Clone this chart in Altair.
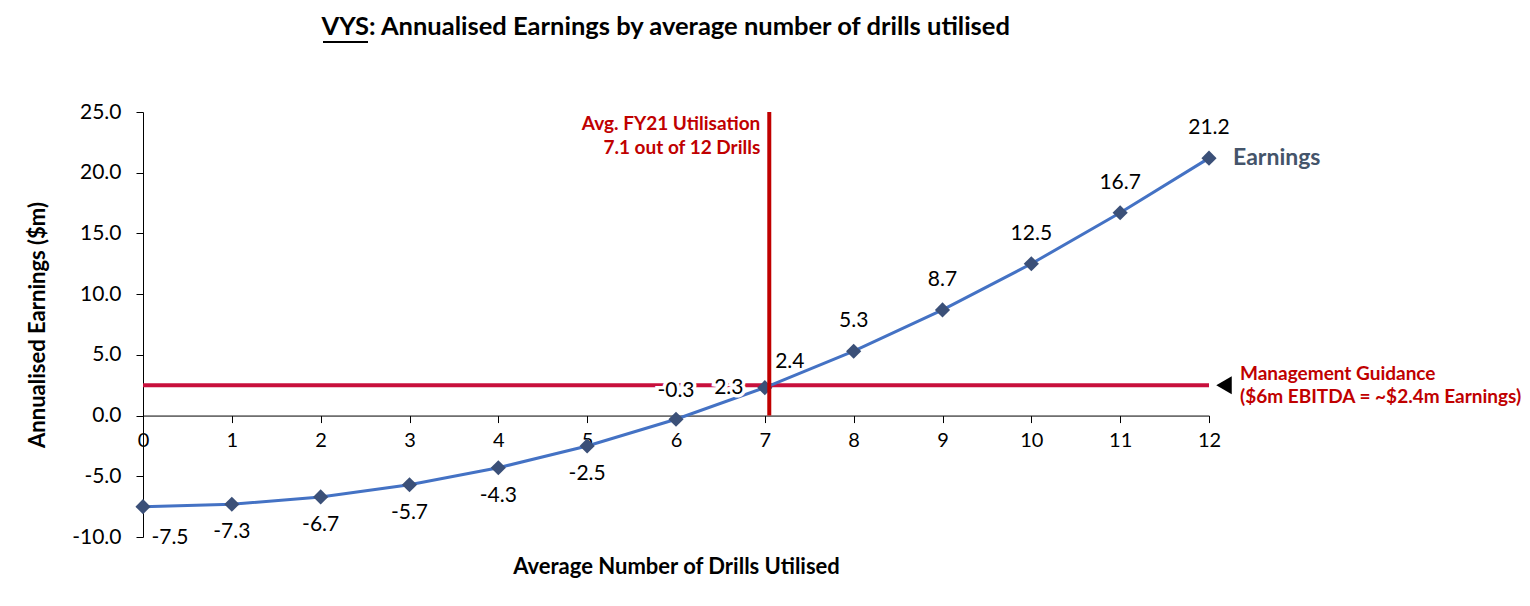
import altair as alt
import pandas as pd

drills = list(range(13))
earnings = [-7.5, -7.3, -6.7, -5.7, -4.3, -2.5, -0.3, 2.3, 5.3, 8.7, 12.5, 16.7, 21.2]
guidance_level = [2.5]
guidance_label = ["2.4"]
utilisation = [7.05]
util_text = ["Avg. FY21 Utilisation", "7.1 out of 12 Drills"]
guid_text = ["Management Guidance", "($6m EBITDA = ~$2.4m Earnings)"]
y_ticks = [-10, -5, 0, 5, 10, 15, 20, 25]

FONT = "Lato"
RED = "#C00000"
HRED = "#C8103C"
BLUE = "#4472C4"
MARK = "#3B5078"

W, H = 1066, 425
YMIN, YMAX = -10, 25
zero_offset = -(0 - YMIN) / (YMAX - YMIN) * H

df = pd.DataFrame({"drills": drills, "earnings": earnings,
                   "label": [f"{v:.1f}" for v in earnings]})

xs = alt.Scale(domain=[0, 12], nice=False)
ys = alt.Scale(domain=[YMIN, YMAX], nice=False)

base = alt.Chart(df)

X = alt.X("drills:Q", scale=xs, axis=alt.Axis(
    values=drills, format="d", offset=zero_offset, tickSize=7, labelFontSize=20,
    labelPadding=8, labelFlush=False, labelFont=FONT, labelColor="black", domainColor="black",
    tickColor="black", grid=False, title="Average Number of Drills Utilised",
    titleFont=FONT, titleFontSize=22, titleFontWeight="bold", titleColor="black",
    titleY=151, titleBaseline="middle"))
Y = alt.Y("earnings:Q", scale=ys, axis=alt.Axis(
    values=y_ticks, tickSize=7, labelFontSize=21, labelPadding=15,
    labelExpr="replace(format(datum.value, '.1f'), '\u2212', '-')",
    labelFont=FONT, labelColor="black", domainColor="black", tickColor="black",
    grid=False, title="Annualised Earnings ($m)", titleFont=FONT, titleFontSize=22,
    titleFontWeight="bold", titleColor="black", titleX=-106, titleBaseline="middle"))

gdf = pd.DataFrame({"x0": [0], "x1": [12], "g": guidance_level, "t": guidance_label})
hline = alt.Chart(gdf).mark_rule(color=HRED, strokeWidth=4).encode(
    x=alt.X("x0:Q", scale=xs), x2="x1:Q", y=alt.Y("g:Q", scale=ys))

udf = pd.DataFrame({"u": utilisation, "y0": [0], "y1": [YMAX]})
vline = alt.Chart(udf).mark_rule(color=RED, strokeWidth=4).encode(
    x=alt.X("u:Q", scale=xs), y=alt.Y("y0:Q", scale=ys), y2="y1:Q")

line = base.mark_line(color=BLUE, strokeWidth=3).encode(x=X, y=Y)
pts = base.mark_point(shape="diamond", filled=True, size=230, color=MARK, opacity=1).encode(
    x=alt.X("drills:Q", scale=xs), y=alt.Y("earnings:Q", scale=ys))

LS = 21


def lab(filt, dx=0, dy=0, align="center"):
    layers = []
    for halo in (True, False):
        kw = dict(fontSize=LS, font=FONT, align=align, baseline="middle", dx=dx, dy=dy)
        if halo:
            kw.update(color="white", stroke="white", strokeWidth=7)
        else:
            kw.update(color="black")
        layers.append(base.mark_text(**kw).encode(
            x=alt.X("drills:Q", scale=xs), y=alt.Y("earnings:Q", scale=ys),
            text="label:N").transform_filter(filt))
    return layers


labels = []
labels += lab("datum.drills == 0", dx=27, dy=31)
labels += lab("datum.drills >= 1 && datum.drills <= 5", dy=28)
labels += lab("datum.drills == 6", dy=-28)
labels += lab("datum.drills == 7", dx=-36)
labels += lab("datum.drills >= 8", dy=-30)

g_lab = alt.Chart(gdf).mark_text(fontSize=LS, font=FONT, color="black", dx=25, dy=-23,
                                  align="center", baseline="middle").encode(
    x=alt.value(7 / 12 * W), y=alt.Y("g:Q", scale=ys), text="t:N")

earn_lab = alt.Chart(pd.DataFrame({"x": [12], "y": [earnings[-1]], "t": ["Earnings"]})).mark_text(
    fontSize=23, font=FONT, fontWeight="bold", color="#44546A", align="left",
    baseline="middle", dx=24).encode(
    x=alt.X("x:Q", scale=xs), y=alt.Y("y:Q", scale=ys), text="t:N")

ANN = 19
u1 = alt.Chart(pd.DataFrame({"u": utilisation, "y": [YMAX], "t": [util_text[0]]})).mark_text(
    fontSize=ANN, font=FONT, fontWeight="bold", color=RED, align="right", baseline="middle",
    dx=-9, dy=12).encode(x=alt.X("u:Q", scale=xs), y=alt.Y("y:Q", scale=ys), text="t:N")
u2 = alt.Chart(pd.DataFrame({"u": utilisation, "y": [YMAX], "t": [util_text[1]]})).mark_text(
    fontSize=ANN, font=FONT, fontWeight="bold", color=RED, align="right", baseline="middle",
    dx=-9, dy=36).encode(x=alt.X("u:Q", scale=xs), y=alt.Y("y:Q", scale=ys), text="t:N")

m1 = alt.Chart(pd.DataFrame({"x": [12], "g": guidance_level, "t": [guid_text[0]]})).mark_text(
    fontSize=ANN, font=FONT, fontWeight="bold", color=RED, align="left", baseline="middle",
    dx=31, dy=-11).encode(x=alt.X("x:Q", scale=xs), y=alt.Y("g:Q", scale=ys), text="t:N")
m2 = alt.Chart(pd.DataFrame({"x": [12], "g": guidance_level, "t": [guid_text[1]]})).mark_text(
    fontSize=ANN, font=FONT, fontWeight="bold", color=RED, align="left", baseline="middle",
    dx=31, dy=12).encode(x=alt.X("x:Q", scale=xs), y=alt.Y("g:Q", scale=ys), text="t:N")
tri = alt.Chart(pd.DataFrame({"x": [12], "g": guidance_level})).mark_point(
    shape="triangle-left", filled=True, color="black", size=320, opacity=1, xOffset=15).encode(
    x=alt.X("x:Q", scale=xs), y=alt.Y("g:Q", scale=ys))

TS = 25.5
tdf = pd.DataFrame({"a": ["VYS"], "b": [": Annualised Earnings by average number of drills utilised"]})
t1 = alt.Chart(tdf).mark_text(fontSize=TS, font=FONT, fontWeight="bold", color="black",
                              align="right", baseline="middle").encode(
    x=alt.value(226), y=alt.value(-85), text="a:N")
t2 = alt.Chart(tdf).mark_text(fontSize=TS, font=FONT, fontWeight="bold", color="black",
                              align="left", baseline="middle").encode(
    x=alt.value(226), y=alt.value(-85), text="b:N")
uline = alt.Chart(tdf).mark_rule(color="black", strokeWidth=2).encode(
    x=alt.value(180), x2=alt.value(225), y=alt.value(-70))

chart = alt.layer(
    hline, line, pts, vline, *labels, g_lab, earn_lab, u1, u2, m1, m2, tri, t1, t2, uline
).properties(
    width=W, height=H,
    autosize=alt.AutoSizeParams(type="none"),
    padding={"left": 135, "top": 104, "right": 313, "bottom": 55},
).configure_view(stroke=None)

chart.save("out.html", embed_options={"renderer": "svg", "actions": False})
